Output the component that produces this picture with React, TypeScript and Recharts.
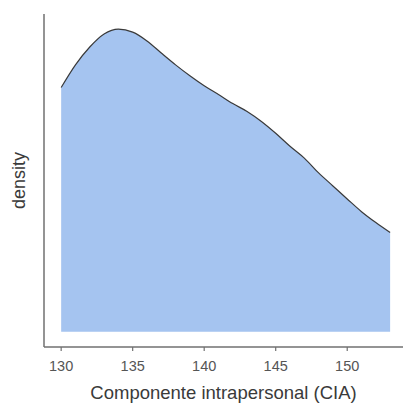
import { Area, AreaChart, XAxis, YAxis } from "recharts";

const xValues = [
  130, 131, 132, 133, 134, 135, 136, 137, 138, 139, 140, 141, 142, 143, 144, 145,
  146, 147, 148, 149, 150, 151, 152, 153,
];
const densityValues = [
  0.807, 0.882, 0.941, 0.984, 1.0, 0.99, 0.961, 0.921, 0.882, 0.846, 0.813, 0.784,
  0.754, 0.728, 0.695, 0.656, 0.613, 0.574, 0.525, 0.482, 0.439, 0.397, 0.361, 0.328,
];
const xTicks = [130, 135, 140, 145, 150];

const data = xValues.map((x, i) => ({ x, density: densityValues[i] }));

const axisColor = "#707070";

export default function App() {
  return (
    <div style={{ position: "absolute", left: 0, top: 0, fontFamily: "Arial, 'Liberation Sans', sans-serif" }}>
      <AreaChart
        width={403}
        height={404}
        data={data}
        margin={{ top: 14, right: 0, left: 0, bottom: 0 }}
      >
        <XAxis
          dataKey="x"
          type="number"
          domain={[128.8, 153.9]}
          ticks={xTicks}
          allowDataOverflow
          height={57}
          tickSize={4}
          tickMargin={10}
          tickLine={{ stroke: axisColor, strokeWidth: 1.2 }}
          axisLine={{ stroke: axisColor, strokeWidth: 1.5 }}
          tick={{ fill: "#555", fontSize: 14.5 }}
          label={{
            value: "Componente intrapersonal (CIA)",
            position: "insideBottom",
            offset: 5,
            fill: "#3a3a3a",
            fontSize: 18.5,
          }}
        />
        <YAxis
          type="number"
          domain={[-0.05, 1.05]}
          width={44}
          tick={false}
          tickLine={false}
          axisLine={{ stroke: axisColor, strokeWidth: 1.5 }}
          label={{
            value: "density",
            angle: -90,
            position: "insideLeft",
            offset: 19,
            textAnchor: "middle",
            fill: "#3a3a3a",
            fontSize: 18,
          }}
        />
        <Area
          type="monotone"
          dataKey="density"
          stroke="#3a3a3a"
          strokeWidth={1.2}
          fill="#a5c4f0"
          fillOpacity={1}
          dot={false}
          activeDot={false}
          isAnimationActive={false}
        />
      </AreaChart>
    </div>
  );
}
